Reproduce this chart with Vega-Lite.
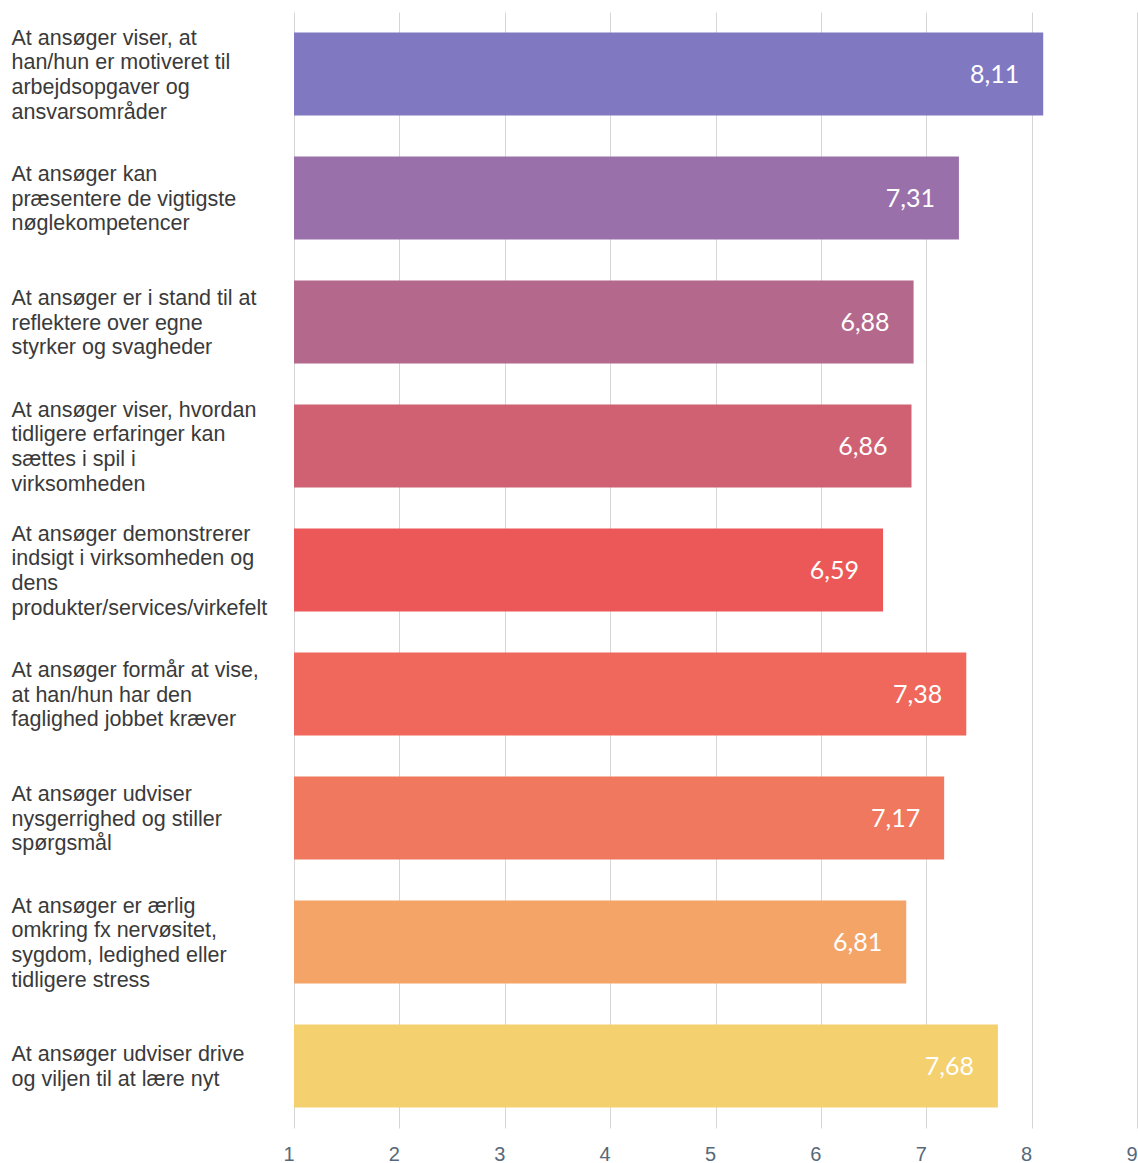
{
  "$schema": "https://vega.github.io/schema/vega-lite/v6.json",
  "autosize": {"type": "none"},
  "width": 843,
  "height": 1116,
  "padding": {"left": 294, "top": 12, "right": 1, "bottom": 35},
  "background": "white",
  "config": {
    "view": {"stroke": null},
    "locale": {"number": {"decimal": ",", "thousands": ".", "grouping": [3], "currency": ["", " kr."]}}
  },
  "data": {
    "values": [
      {"label": "At ansøger viser, at|han/hun er motiveret til|arbejdsopgaver og|ansvarsområder", "value": 8.11, "color": "#8079C2"},
      {"label": "At ansøger kan|præsentere de vigtigste|nøglekompetencer", "value": 7.31, "color": "#9A70AA"},
      {"label": "At ansøger er i stand til at|reflektere over egne|styrker og svagheder", "value": 6.88, "color": "#B4698C"},
      {"label": "At ansøger viser, hvordan|tidligere erfaringer kan|sættes i spil i|virksomheden", "value": 6.86, "color": "#D06173"},
      {"label": "At ansøger demonstrerer|indsigt i virksomheden og|dens|produkter/services/virkefelt", "value": 6.59, "color": "#EC5858"},
      {"label": "At ansøger formår at vise,|at han/hun har den|faglighed jobbet kræver", "value": 7.38, "color": "#EF685B"},
      {"label": "At ansøger udviser|nysgerrighed og stiller|spørgsmål", "value": 7.17, "color": "#EF785E"},
      {"label": "At ansøger er ærlig|omkring fx nervøsitet,|sygdom, ledighed eller|tidligere stress", "value": 6.81, "color": "#F3A466"},
      {"label": "At ansøger udviser drive|og viljen til at lære nyt", "value": 7.68, "color": "#F4D06E"}
    ]
  },
  "encoding": {
    "y": {
      "field": "label",
      "type": "nominal",
      "sort": null,
      "scale": {"paddingInner": 0.33, "paddingOuter": 0.165},
      "axis": {
        "title": null,
        "domain": false,
        "ticks": false,
        "labelExpr": "split(datum.label, '|')",
        "labelAlign": "left",
        "labelBaseline": "middle",
        "labelPadding": 283,
        "labelFont": "Liberation Sans",
        "labelFontSize": 21.5,
        "labelLineHeight": 24.7,
        "labelColor": "#3a3a3a",
        "labelLimit": 0,
        "labelOffset": {
          "condition": [
            {"test": "length(split(datum.value, '|')) == 4", "value": -35.3},
            {"test": "length(split(datum.value, '|')) == 3", "value": -23},
            {"test": "length(split(datum.value, '|')) == 2", "value": -10.6}
          ],
          "value": 1.7
        }
      }
    }
  },
  "layer": [
    {
      "mark": {"type": "bar"},
      "encoding": {
        "x": {
          "field": "value",
          "type": "quantitative",
          "scale": {"domain": [1, 9], "zero": false, "nice": false},
          "axis": {
            "title": null,
            "values": [1, 2, 3, 4, 5, 6, 7, 8, 9],
            "format": "d",
            "grid": true,
            "gridColor": "#d6d6d6",
            "gridWidth": 1,
            "domain": false,
            "ticks": false,
            "labelPadding": 16,
            "labelAlign": "right",
            "labelFont": "Liberation Sans",
            "labelFontSize": 20,
            "labelColor": "#56687a",
            "labelFlush": false
          }
        },
        "x2": {"datum": 1},
        "color": {"field": "color", "type": "nominal", "scale": null}
      }
    },
    {
      "mark": {"type": "text", "align": "right", "baseline": "middle", "dx": -24, "dy": 1, "font": "Lato", "fontSize": 25, "color": "white"},
      "encoding": {
        "x": {"field": "value", "type": "quantitative"},
        "text": {"field": "value", "type": "quantitative", "format": ".2f"}
      }
    }
  ]
}
